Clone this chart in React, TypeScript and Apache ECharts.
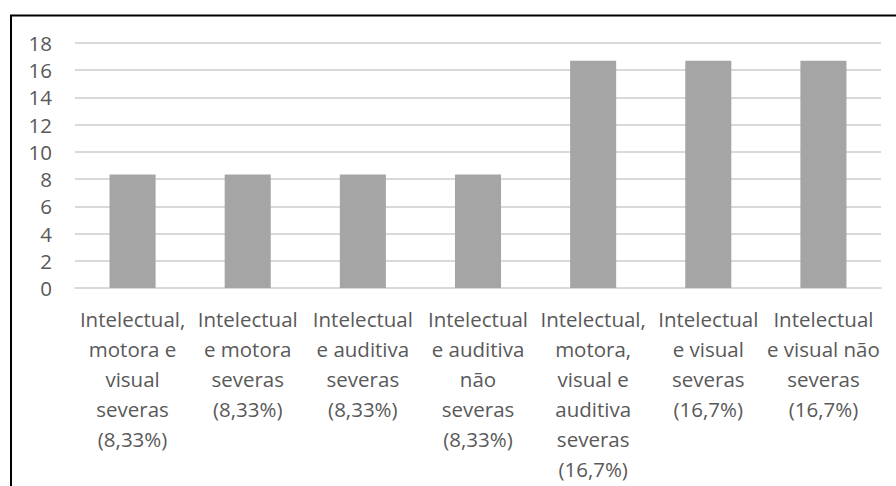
import React, { useEffect, useRef } from "react";
import * as echarts from "echarts";

const categories = [
  "Intelectual,\nmotora e\nvisual\nseveras\n(8,33%)",
  "Intelectual\ne motora\nseveras\n(8,33%)",
  "Intelectual\ne auditiva\nseveras\n(8,33%)",
  "Intelectual\ne auditiva\nnão\nseveras\n(8,33%)",
  "Intelectual,\nmotora,\nvisual e\nauditiva\nseveras\n(16,7%)",
  "Intelectual\ne visual\nseveras\n(16,7%)",
  "Intelectual\ne visual não\nseveras\n(16,7%)",
];
const values = [8.33, 8.33, 8.33, 8.33, 16.7, 16.7, 16.7];
const yTicks = { min: 0, max: 18, interval: 2 };

export default function App() {
  const ref = useRef<HTMLDivElement>(null);
  useEffect(() => {
    if (!ref.current) return;
    const chart = echarts.init(ref.current, null, { renderer: "svg" });
    const font = "Open Sans";
    chart.setOption({
      animation: false,
      backgroundColor: "#ffffff",
      grid: { left: 75, right: 15, top: 43, bottom: 198, containLabel: false },
      graphic: [
        {
          type: "line",
          shape: { x1: 11, y1: 15, x2: 11, y2: 486 },
          style: { stroke: "#000000", lineWidth: 2 },
          silent: true,
        },
        {
          type: "line",
          shape: { x1: 10, y1: 15.5, x2: 896, y2: 15.5 },
          style: { stroke: "#000000", lineWidth: 2 },
          silent: true,
        },
      ],
      xAxis: {
        type: "category",
        data: categories,
        axisLine: { show: true, lineStyle: { color: "#d9d9d9", width: 2 } },
        axisTick: { show: false },
        axisLabel: {
          interval: 0,
          margin: 16,
          color: "#595959",
          fontFamily: font,
          fontSize: 20.5,
          lineHeight: 30,
          align: "center",
        },
      },
      yAxis: {
        type: "value",
        min: yTicks.min,
        max: yTicks.max,
        interval: yTicks.interval,
        axisLine: { show: false },
        axisTick: { show: false },
        splitLine: { lineStyle: { color: "#d9d9d9", width: 2 } },
        axisLabel: {
          margin: 23,
          color: "#595959",
          fontFamily: font,
          fontSize: 20.5,
        },
      },
      series: [
        {
          type: "bar",
          data: values,
          barWidth: "40%",
          itemStyle: { color: "#a5a5a5" },
        },
      ],
    });
    return () => chart.dispose();
  }, []);
  return (
    <div
      ref={ref}
      style={{ position: "fixed", left: 0, top: 0, width: 896, height: 486 }}
    />
  );
}
